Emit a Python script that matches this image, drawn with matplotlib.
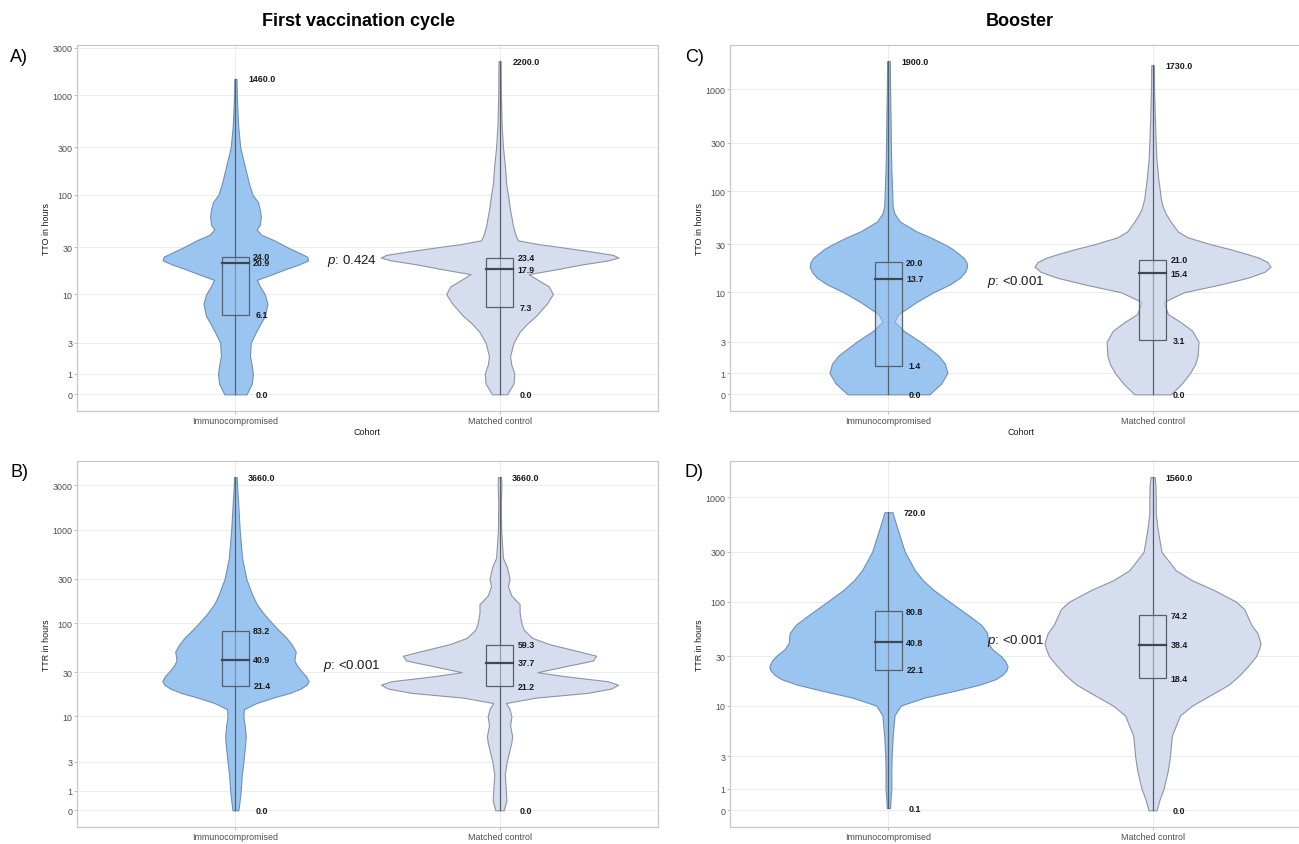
import numpy as np
import matplotlib.pyplot as plt
from matplotlib.patches import Rectangle

plt.rcParams['font.family'] = ['Liberation Sans', 'DejaVu Sans']
plt.rcParams['mathtext.fontset'] = 'custom'
plt.rcParams['mathtext.it'] = 'Liberation Sans:italic'
plt.rcParams['mathtext.rm'] = 'Liberation Sans'

cohorts = ['Immunocompromised', 'Matched control']
y_ticks = [0, 1, 3, 10, 30, 100, 300, 1000, 3000]

# violin outlines: hours, half width (category units)
a_imm_y = [0, 0.5, 1, 1.5, 2, 3, 4, 5, 6, 8, 10, 12, 14, 16, 18, 20, 22, 24, 27, 30, 35, 40, 45, 50, 60, 70, 85, 100, 130, 160, 200, 300, 500, 1000, 1460]
a_imm_w = [.042, .062, .066, .061, .055, .058, .078, .096, .112, .121, .111, .093, .081, .140, .190, .240, .275, .272, .232, .195, .147, .097, .080, .092, .096, .093, .085, .065, .051, .043, .034, .018, .010, .005, .004]
a_ctl_y = [0, 0.5, 1, 1.5, 2, 3, 4, 5, 6, 8, 10, 12, 14, 16, 18, 20, 22, 23.5, 25, 27, 30, 32, 35, 40, 50, 60, 70, 100, 130, 200, 300, 500, 1000, 2200]
a_ctl_w = [.028, .053, .056, .044, .040, .053, .076, .107, .139, .179, .202, .187, .145, .110, .220, .310, .410, .450, .430, .350, .230, .150, .070, .060, .050, .045, .040, .032, .025, .020, .013, .008, .005, .004]

b_imm_y = [0, 0.5, 1, 2, 3, 5, 6, 8, 10, 12, 14, 16, 18, 20, 22, 24, 27, 30, 35, 40, 50, 60, 70, 85, 100, 130, 160, 200, 300, 500, 1000, 2000, 3000, 3660]
b_imm_w = [.011, .016, .020, .024, .030, .037, .039, .035, .030, .032, .080, .143, .207, .247, .269, .277, .268, .253, .234, .223, .228, .212, .193, .163, .139, .104, .081, .064, .041, .025, .016, .010, .006, .005]
b_ctl_y = [0, 0.5, 1, 2, 3, 5, 6, 8, 10, 12, 14, 16, 18, 20, 22, 24, 27, 30, 35, 40, 45, 50, 60, 70, 85, 100, 130, 160, 200, 250, 300, 400, 500, 1000, 2000, 3000, 3660]
b_ctl_w = [.016, .026, .024, .020, .027, .044, .048, .040, .045, .038, .024, .139, .334, .422, .449, .410, .255, .143, .255, .354, .366, .302, .188, .124, .092, .083, .076, .076, .044, .032, .038, .028, .013, .006, .005, .007, .006]

c_imm_y = [0, 0.5, 1, 1.5, 2, 3, 4, 5, 6, 8, 10, 12, 14, 16, 18, 20, 22, 24, 27, 30, 35, 40, 50, 60, 70, 100, 160, 300, 500, 1000, 1900]
c_imm_w = [.155, .200, .223, .214, .189, .120, .057, .023, .038, .107, .170, .233, .271, .290, .298, .295, .285, .267, .242, .211, .159, .107, .044, .023, .016, .014, .011, .009, .008, .006, .005]
c_ctl_y = [0, 0.5, 1, 1.5, 2, 3, 4, 5, 6, 8, 10, 12, 14, 16, 18, 20, 22, 24, 27, 30, 35, 40, 50, 60, 70, 85, 100, 130, 160, 200, 300, 500, 1000, 1730]
c_ctl_w = [.069, .111, .142, .162, .171, .174, .150, .104, .058, .042, .119, .258, .362, .424, .447, .435, .404, .358, .289, .219, .134, .096, .069, .050, .039, .031, .028, .022, .019, .015, .012, .009, .006, .005]

d_imm_y = [0.1, 0.5, 1, 2, 3, 5, 8, 10, 12, 14, 16, 18, 20, 22, 24, 27, 30, 35, 40, 50, 60, 70, 85, 100, 130, 160, 200, 300, 500, 720]
d_imm_w = [.006, .008, .011, .011, .012, .016, .023, .046, .139, .255, .347, .405, .433, .447, .451, .442, .426, .393, .378, .374, .351, .316, .270, .231, .170, .131, .100, .062, .034, .015]
d_ctl_y = [0, 0.5, 1, 2, 3, 5, 8, 10, 12, 14, 16, 18, 20, 24, 30, 35, 40, 50, 60, 70, 85, 100, 130, 160, 200, 300, 500, 700, 1000, 1300, 1560]
d_ctl_w = [.015, .027, .042, .058, .066, .073, .104, .150, .204, .250, .289, .312, .332, .361, .392, .403, .409, .397, .374, .362, .347, .316, .231, .150, .088, .034, .019, .012, .012, .011, .008]

# min, q1, median, q3, max per cohort
a_stats = [[0.0, 6.1, 20.9, 24.0, 1460.0], [0.0, 7.3, 17.9, 23.4, 2200.0]]
b_stats = [[0.0, 21.4, 40.9, 83.2, 3660.0], [0.0, 21.2, 37.7, 59.3, 3660.0]]
c_stats = [[0.0, 1.4, 13.7, 20.0, 1900.0], [0.0, 3.1, 15.4, 21.0, 1730.0]]
d_stats = [[0.1, 22.1, 40.8, 80.8, 720.0], [0.0, 18.4, 38.4, 74.2, 1560.0]]

p_labels = ['0.424', '<0.001', '<0.001', '<0.001']
p_x = [1.44, 1.44, 1.48, 1.48]
p_y = [22.0, 36.0, 13.0, 42.6]

fills = ['#9bc5f1', '#d5ddef']
edges = ['#6f8fb6', '#8f94a3']
box_col = '#56606b'


def fwd(v):
    return np.arcsinh(np.asarray(v, dtype=float) / 2) / np.log(10)


def inv(t):
    return 2 * np.sinh(np.asarray(t, dtype=float) * np.log(10))


def draw_panel(ax, profiles, stats, ylabel, plab, px, py):
    ax.set_yscale('function', functions=(fwd, inv))
    for i, ((ys, ws), st) in enumerate(zip(profiles, stats)):
        pos = i + 1
        ys = np.array(ys)
        ws = np.array(ws)
        ax.fill_betweenx(ys, pos - ws, pos + ws, facecolor=fills[i],
                         edgecolor=edges[i], lw=0.8, zorder=2)
        ax.plot([pos, pos], [st[0], st[4]], color=box_col, lw=0.9, zorder=3)
        ax.add_patch(Rectangle((pos - 0.05, st[1]), 0.1, st[3] - st[1],
                               facecolor=fills[i], alpha=0.5, edgecolor='none', zorder=3))
        ax.add_patch(Rectangle((pos - 0.05, st[1]), 0.1, st[3] - st[1],
                               facecolor='none', edgecolor=box_col, lw=0.9, zorder=4))
        ax.plot([pos - 0.05, pos + 0.05], [st[2], st[2]], color='#3f4852', lw=1.6, zorder=5)
        for v in st:
            ax.text(pos + 0.1, v, f'{v:.1f}', ha='center', va='center',
                    fontsize=6.4, fontweight='bold', color='#1a1a1a', zorder=6)
    ax.text(px, py, r'$p$: ' + plab, ha='center', va='center', fontsize=9.5, color='#1a1a1a')

    lo = min(s[0] for s in stats)
    hi = max(s[4] for s in stats)
    rng = fwd(hi) - fwd(lo)
    ax.set_ylim(inv(fwd(lo) - 0.05 * rng), inv(fwd(hi) + 0.05 * rng))
    ax.set_xlim(0.4, 2.6)
    ticks = [t for t in y_ticks if t <= inv(fwd(hi) + 0.05 * rng)]
    ax.set_yticks(ticks)
    ax.set_yticklabels([str(t) for t in ticks])
    ax.yaxis.set_minor_locator(plt.NullLocator())
    ax.set_xticks([1, 2])
    ax.set_xticklabels(cohorts)
    ax.grid(True, color='#ececec', lw=0.7)
    ax.set_axisbelow(True)
    for sp in ax.spines.values():
        sp.set_color('#c8c8c8')
        sp.set_linewidth(0.9)
    ax.tick_params(length=2, width=0.6, color='#b3b3b3', labelsize=6.4,
                   labelcolor='#4d4d4d', pad=1.5)
    ax.set_ylabel(ylabel, fontsize=6.4, labelpad=1, color='#1a1a1a')
    ax.set_xlabel('Cohort', fontsize=6.4, labelpad=1.5, color='#1a1a1a')


W, H = 1299, 845
fig = plt.figure(figsize=(W / 100, H / 100), dpi=100)


def make_axes(x0, y0, x1, y1):
    return fig.add_axes([x0 / W, 1 - y1 / H, (x1 - x0) / W, (y1 - y0) / H])


ax_a = make_axes(77, 45.5, 658, 412)
ax_b = make_axes(77, 461.5, 658, 828)
ax_c = make_axes(730, 45.5, 1311, 412)
ax_d = make_axes(730, 461.5, 1311, 828)

draw_panel(ax_a, [(a_imm_y, a_imm_w), (a_ctl_y, a_ctl_w)], a_stats, 'TTO in hours', p_labels[0], p_x[0], p_y[0])
draw_panel(ax_b, [(b_imm_y, b_imm_w), (b_ctl_y, b_ctl_w)], b_stats, 'TTR in hours', p_labels[1], p_x[1], p_y[1])
draw_panel(ax_c, [(c_imm_y, c_imm_w), (c_ctl_y, c_ctl_w)], c_stats, 'TTO in hours', p_labels[2], p_x[2], p_y[2])
draw_panel(ax_d, [(d_imm_y, d_imm_w), (d_ctl_y, d_ctl_w)], d_stats, 'TTR in hours', p_labels[3], p_x[3], p_y[3])

fig.text(358 / W, 1 - 22 / H, 'First vaccination cycle', ha='center', va='center',
         fontsize=13, fontweight='bold')
fig.text(1020 / W, 1 - 22 / H, 'Booster', ha='center', va='center',
         fontsize=13, fontweight='bold')
for lab, x, y in [('A)', 10, 57), ('B)', 10, 473), ('C)', 685, 57), ('D)', 685, 473)]:
    fig.text(x / W, 1 - y / H, lab, ha='left', va='center', fontsize=13)

fig.savefig('out.png', dpi=100)
